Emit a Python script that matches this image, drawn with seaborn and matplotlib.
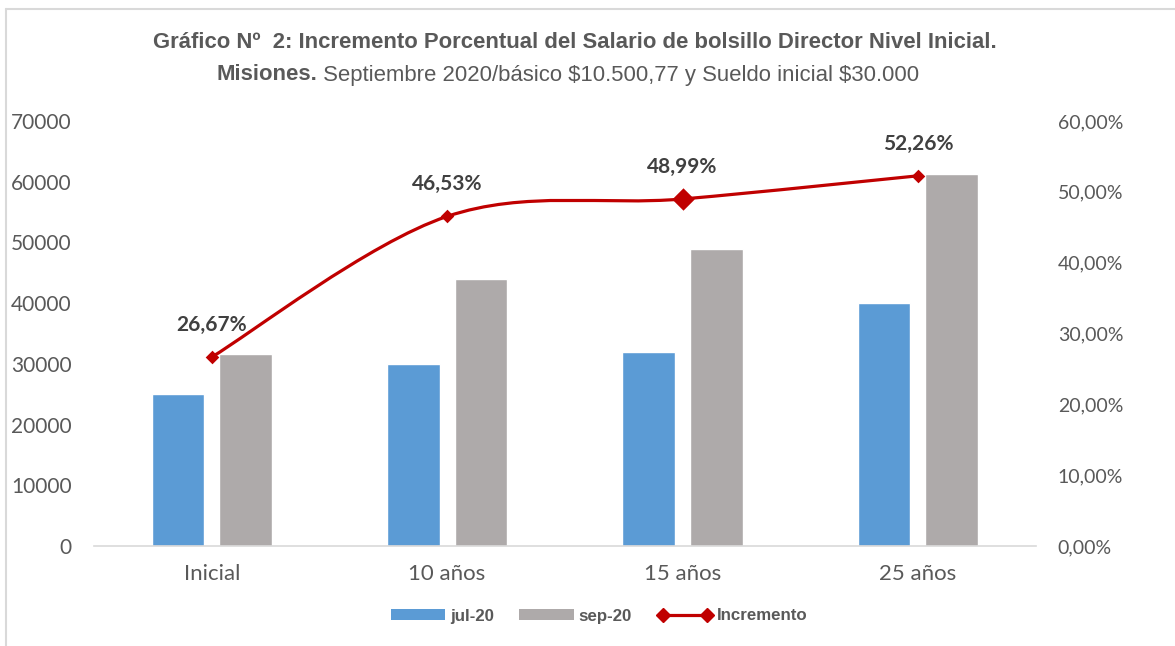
import numpy as np
import pandas as pd
import matplotlib
matplotlib.use("Agg")
import matplotlib.pyplot as plt
from matplotlib.path import Path
from matplotlib.patches import PathPatch, Patch
from matplotlib.lines import Line2D
import seaborn as sns

# data
categorias = ["Inicial", "10 años", "15 años", "25 años"]
jul_20 = [25000, 30000, 32000, 40000]
sep_20 = [31667, 43980, 48920, 61270]
incremento = [0.2667, 0.4653, 0.4899, 0.5226]
etiquetas = ["26,67%", "46,53%", "48,99%", "52,26%"]
destacado = 2  # 15 años has the bigger marker

AZUL = "#5B9BD5"
GRIS = "#AEAAAA"
ROJO = "#C00000"
TEXTO = "#595959"

sns.set_style("white")
plt.rcParams["font.family"] = ["Lato", "DejaVu Sans"]
NARROW = ["Liberation Sans Narrow", "Liberation Sans", "DejaVu Sans"]

W, H = 1175, 646
fig = plt.figure(figsize=(W / 100, H / 100), dpi=100)
ax = fig.add_axes([94 / W, 1 - 546 / H, 941.6 / W, 425 / H])

df = pd.DataFrame({
    "cat": categorias * 2,
    "serie": ["jul-20"] * 4 + ["sep-20"] * 4,
    "valor": jul_20 + sep_20,
})
sns.barplot(data=df, x="cat", y="valor", hue="serie", palette=[AZUL, GRIS],
            width=0.573, gap=0.22, saturation=1, legend=False, ax=ax)

ax.set_xlim(-0.5, 3.5)
ax.set_ylim(0, 70000)
ax.set_yticks(range(0, 70001, 10000))
ax.set_xlabel("")
ax.set_ylabel("")
for s in ["top", "left", "right"]:
    ax.spines[s].set_visible(False)
ax.spines["bottom"].set_color("#D9D9D9")
ax.spines["bottom"].set_linewidth(1.2)
ax.tick_params(axis="x", length=0, pad=13, labelsize=16, labelcolor=TEXTO)
ax.tick_params(axis="y", length=0, pad=16, labelsize=15, labelcolor=TEXTO)

# secondary axis for the percentage line
ax2 = ax.twinx()
ax2.set_ylim(0, 0.6)
ax2.set_yticks(np.arange(0, 0.61, 0.1))
ax2.set_yticklabels([f"{v * 100:.2f}%".replace(".", ",") for v in np.arange(0, 0.61, 0.1)])
ax2.tick_params(axis="y", length=0, pad=16, labelsize=14, labelcolor=TEXTO)
for s in ax2.spines.values():
    s.set_visible(False)

# smoothed line (Catmull-Rom as bezier, like Excel's smooth line)
xs = np.arange(len(incremento), dtype=float)
pts = np.column_stack([xs, incremento])
ext = np.vstack([pts[0], pts, pts[-1]])
verts = [tuple(pts[0])]
codes = [Path.MOVETO]
for i in range(len(pts) - 1):
    p0, p1, p2, p3 = ext[i], ext[i + 1], ext[i + 2], ext[i + 3]
    c1 = p1 + (p2 - p0) / 6
    c2 = p2 - (p3 - p1) / 6
    verts += [tuple(c1), tuple(c2), tuple(p2)]
    codes += [Path.CURVE4] * 3
ax2.add_patch(PathPatch(Path(verts, codes), facecolor="none", edgecolor=ROJO,
                        lw=2.3, capstyle="round", zorder=3))

normales = [i for i in range(len(incremento)) if i != destacado]
sns.scatterplot(x=xs[normales], y=[incremento[i] for i in normales], marker="D",
                s=48, color=ROJO, edgecolor=ROJO, linewidth=0, zorder=4, ax=ax2)
sns.scatterplot(x=[xs[destacado]], y=[incremento[destacado]], marker="D",
                s=130, color=ROJO, edgecolor=ROJO, linewidth=0, zorder=4, ax=ax2)
ax2.set_xlim(-0.5, 3.5)
ax2.set_ylabel("")

for x, y, t in zip(xs, incremento, etiquetas):
    ax2.annotate(t, (x, y), xytext=(0, 23), textcoords="offset points",
                 ha="center", va="center", fontsize=15, fontweight="bold",
                 color="#404040")

# title
fig.text(575 / W, 1 - 42 / H,
         "Gráfico Nº  2: Incremento Porcentual del Salario de bolsillo Director Nivel Inicial.",
         ha="center", va="center", fontsize=15.9, fontweight="bold", color=TEXTO,
         family=NARROW)
t1 = fig.text(0, 1 - 75 / H, "Misiones.", ha="left", va="center", fontsize=15.9,
              fontweight="bold", color=TEXTO, family=NARROW)
t2 = fig.text(0, 1 - 75 / H, r" Septiembre 2020/básico \$10.500,77 y Sueldo inicial \$30.000",
              ha="left", va="center", fontsize=15.9, color=TEXTO, family=NARROW)
fig.canvas.draw()
r = fig.canvas.get_renderer()
w1 = t1.get_window_extent(r).width
w2 = t2.get_window_extent(r).width
x0 = 568 - (w1 + w2) / 2
t1.set_x(x0 / W)
t2.set_x((x0 + w1) / W)

# legend
handles = [
    Patch(facecolor=AZUL, edgecolor="none", label="jul-20"),
    Patch(facecolor=GRIS, edgecolor="none", label="sep-20"),
    Line2D([0], [0], color=ROJO, lw=2.3, marker="D", markersize=7, label="Incremento"),
]
fig.legend(handles=handles, loc="center", bbox_to_anchor=(599 / W, 1 - 616 / H),
           ncol=3, frameon=False, handlelength=3.2, handleheight=0.6,
           handletextpad=0.3, columnspacing=1.5, numpoints=2,
           prop={"family": NARROW, "weight": "bold", "size": 12.2},
           labelcolor=TEXTO)

# chart border (top and left visible)
fig.add_artist(Line2D([5.5 / W, 1], [1 - 8.5 / H, 1 - 8.5 / H], color="#D9D9D9", lw=1.5))
fig.add_artist(Line2D([5.5 / W, 5.5 / W], [0, 1 - 8.5 / H], color="#D9D9D9", lw=1.5))

fig.savefig("out.png", dpi=100)
